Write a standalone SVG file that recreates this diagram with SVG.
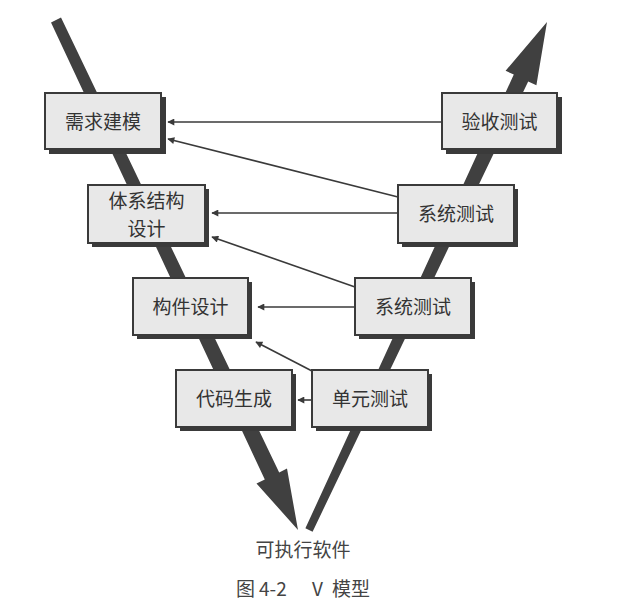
<svg xmlns="http://www.w3.org/2000/svg" width="617" height="612" viewBox="0 0 617 612">
  <style>
    .shaft { fill: #404040; }
    .shadow { fill: #3a3a3a; }
    .box { fill: #e8e8e8; stroke: #3a3a3a; stroke-width: 2; }
    .label { font-family: "Noto Sans CJK SC", "Liberation Sans", sans-serif; font-size: 19px; fill: #333; text-anchor: middle; }
    .caption { font-family: "Noto Sans CJK SC", "Liberation Sans", sans-serif; font-size: 19px; fill: #444; }
    .link { stroke: #3a3a3a; stroke-width: 1.6; fill: none; marker-end: url(#tip); }
  </style>
  <defs>
    <marker id="tip" viewBox="0 0 10 10" refX="9" refY="5" markerWidth="9" markerHeight="7" markerUnits="userSpaceOnUse" orient="auto">
      <path d="M0,0 L10,5 L0,10 z" fill="#3a3a3a"/>
    </marker>
  </defs>

  <rect width="617" height="612" fill="#ffffff"/>

  <!-- the two big V arms -->
  <g id="v-arms">
    <polygon class="shaft" points="51,22.4 61,17.6 279.2,472.5 287,468.6 298,530 256.5,483.4 264.8,479.5"/>
    <polygon class="shaft" points="305.4,528.3 513.8,74.6 505.6,70.8 547,22 536.4,85.2 528.2,81.4 312.6,531.7"/>
  </g>

  <!-- feedback connectors -->
  <g id="connectors">
    <line class="link" x1="442" y1="122" x2="168" y2="122"/>
    <line class="link" x1="398" y1="197" x2="168" y2="139"/>
    <line class="link" x1="398" y1="213" x2="212" y2="213"/>
    <line class="link" x1="355" y1="287" x2="212" y2="237"/>
    <line class="link" x1="355" y1="307" x2="258" y2="307"/>
    <line class="link" x1="312" y1="371" x2="256" y2="342"/>
    <line class="link" x1="312" y1="400" x2="298" y2="400"/>
  </g>

  <g id="req-model">
    <rect class="shadow" x="49" y="97" width="117" height="57"/>
    <rect class="box" x="45" y="93" width="116" height="56"/>
    <text class="label" x="103" y="129">需求建模</text>
  </g>

  <g id="acceptance-test">
    <rect class="shadow" x="446" y="97" width="116" height="57"/>
    <rect class="box" x="442" y="93" width="115" height="56"/>
    <text class="label" x="499.5" y="129">验收测试</text>
  </g>

  <g id="arch-design">
    <rect class="shadow" x="92" y="189" width="117" height="58"/>
    <rect class="box" x="88" y="185" width="117" height="58"/>
    <text class="label" x="146.5" y="208">体系结构</text>
    <text class="label" x="146.5" y="236">设计</text>
  </g>

  <g id="system-test-upper">
    <rect class="shadow" x="402" y="189" width="116" height="58"/>
    <rect class="box" x="398" y="185" width="116" height="58"/>
    <text class="label" x="456" y="221">系统测试</text>
  </g>

  <g id="component-design">
    <rect class="shadow" x="137" y="282" width="115" height="57"/>
    <rect class="box" x="133" y="278" width="115" height="57"/>
    <text class="label" x="190.5" y="314">构件设计</text>
  </g>

  <g id="system-test-lower">
    <rect class="shadow" x="359" y="282" width="116" height="57"/>
    <rect class="box" x="355" y="278" width="116" height="57"/>
    <text class="label" x="413" y="314">系统测试</text>
  </g>

  <g id="code-gen">
    <rect class="shadow" x="180" y="374" width="116" height="57"/>
    <rect class="box" x="176" y="370" width="116" height="57"/>
    <text class="label" x="234" y="406">代码生成</text>
  </g>

  <g id="unit-test">
    <rect class="shadow" x="316" y="374" width="116" height="57"/>
    <rect class="box" x="312" y="370" width="116" height="57"/>
    <text class="label" x="370" y="406">单元测试</text>
  </g>

  <g id="captions">
    <text class="caption" x="303" y="557" text-anchor="middle">可执行软件</text>
    <text class="caption" x="236" y="596">图</text>
    <text class="caption" x="259" y="596">4-2</text>
    <text class="caption" x="312" y="596">V</text>
    <text class="caption" x="332" y="596">模型</text>
  </g>
</svg>
